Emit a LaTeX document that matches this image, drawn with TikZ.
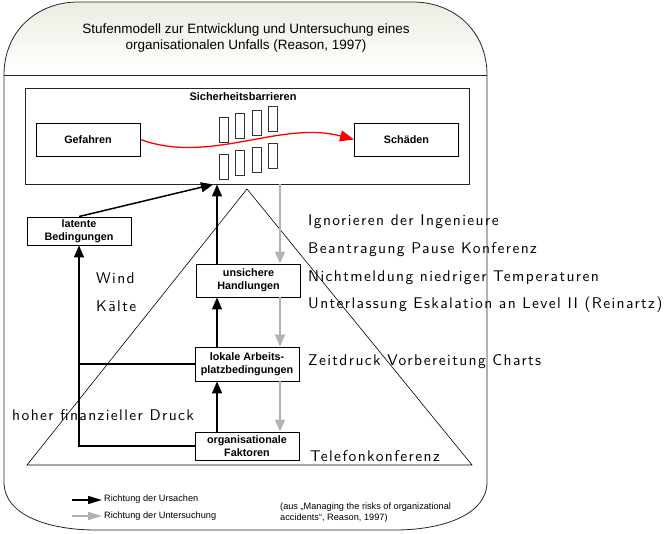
\documentclass[tikz,border=0pt]{standalone}
\usepackage{fontspec}
\setmainfont{Liberation Sans}
\newfontfamily\annofont[LetterSpace=9]{lmsans10-regular.otf}
\usetikzlibrary{arrows.meta, positioning, calc}
\definecolor{headtop}{RGB}{236,236,226}

\tikzset{
  stage/.style={draw, line width=0.9pt, fill=white, align=center,
    font=\bfseries\fontsize{10.8}{13}\selectfont, minimum width=104pt, inner sep=1pt},
  barrier/.style={draw=black!80, line width=0.8pt, minimum width=9pt,
    minimum height=25pt, inner sep=0pt},
  cause/.style={line width=1.5pt, -{Triangle[length=12pt,width=10pt]}},
  probe/.style={line width=1.5pt, black!30, -{Triangle[length=12pt,width=10pt]}},
  remark/.style={anchor=west, inner sep=0pt, font=\annofont\fontsize{15.5}{17}\selectfont},
  legend/.style={anchor=west, inner sep=0pt, align=left, font=\fontsize{9.2}{11}\selectfont}
}

\begin{document}
\begin{tikzpicture}[x=1pt, y=-1pt]
\useasboundingbox (0,0) rectangle (666,533);
% Rahmen mit Kopfzeile
\shade[top color=headtop, bottom color=white]
  (4,75) .. controls (4,30) and (38,2) .. (78,2) -- (413,2)
  .. controls (453,2) and (487,30) .. (487,75) -- cycle;
\draw[black!85, line width=0.8pt]
  (4,75) .. controls (4,30) and (38,2) .. (78,2) -- (413,2)
  .. controls (453,2) and (487,30) .. (487,75) -- (487,482)
  .. controls (487,516) and (440,530) .. (395,530) -- (96,530)
  .. controls (50,530) and (4,516) .. (4,482) -- cycle;
\draw[black!85, line width=0.8pt] (4,75) -- (487,75);
\node[align=center, font=\fontsize{13.5}{16}\selectfont] (title) at (246,38)
  {Stufenmodell zur Entwicklung und Untersuchung eines\\organisationalen Unfalls (Reason, 1997)};

% Sicherheitsbarrieren
\node[draw=black!85, line width=0.9pt, minimum width=444pt, minimum height=96pt] (barrierbox) at (247.5,136) {};
\node[font=\bfseries\fontsize{11}{12}\selectfont] (sbtitle) at (243,97) {Sicherheitsbarrieren};
\node[stage, minimum height=33pt] (gef) at (88,139.5) {Gefahren};
\node[stage, minimum height=33pt] (sch) at (406.5,139.5) {Schäden};
\foreach \i in {0,...,3} {
  \node[barrier] (bt\i) at ({223.5+16.5*\i},{129.5-3.5*\i}) {};
  \node[barrier] (bb\i) at ({223.5+16.5*\i},{166.5-3.5*\i}) {};
}
\draw[red, line width=1.3pt, -{Triangle[length=14pt,width=11pt]}]
  (gef.east) .. controls (210,165) and (280,120) .. (sch.west);

% Pyramide
\draw[line width=0.6pt] (27,465) -- (247,189) -- (472,465) -- cycle;

% Stufen
\node[stage, minimum height=28pt] (lat) at (79,231) {latente\\Bedingungen};
\node[stage, minimum height=33pt] (uns) at (248.5,280.5) {unsichere\\Handlungen};
\node[stage, minimum height=34pt] (lok) at (247,364) {lokale Arbeits-\\platzbedingungen};
\node[stage, minimum height=28pt] (org) at (247,446) {organisationale\\Faktoren};

\coordinate (up) at (217,0);
\coordinate (down) at (280,0);
\coordinate (hit) at (213,0);

% Richtung der Ursachen
\draw[cause] (org.north -| up) -- (lok.south -| up);
\draw[cause] (lok.north -| up) -- (uns.south -| up);
\draw[cause] (uns.north -| up) -- (barrierbox.south -| up);
\draw[cause] (lat.north) -- (barrierbox.south -| hit);
\draw[cause] (org.west) -| (lat.south);
\draw[line width=1.5pt] (lok.west) -- (lok.west -| lat.south);

% Richtung der Untersuchung
\draw[probe] (barrierbox.south -| down) -- (uns.north -| down);
\draw[probe] (uns.south -| down) -- (lok.north -| down);
\draw[probe] (lok.south -| down) -- (org.north -| down);

% Anmerkungen
\node[remark] (ign) at (308,222) {Ignorieren der Ingenieure};
\node[remark] (bea) at (308,250) {Beantragung Pause Konferenz};
\node[remark] (nicht) at (308,278) {Nichtmeldung niedriger Temperaturen};
\node[remark] (unter) at (308,305) {Unterlassung Eskalation an Level II (Reinartz)};
\node[remark] (zeit) at (308,362) {Zeitdruck Vorbereitung Charts};
\node[remark] (tel) at (310,456) {Telefonkonferenz};
\node[remark] (wind) at (96,278) {Wind};
\node[remark] (kaelte) at (96,306) {Kälte};
\node[remark] (druck) at (12,415) {hoher finanzieller Druck};

% Legende
\coordinate (la) at (72,500);
\coordinate (lb) at (102,500);
\coordinate (lc) at (72,516);
\coordinate (ld) at (102,516);
\draw[line width=1.5pt, -{Triangle[length=14pt,width=8pt]}] (la) -- (lb);
\draw[line width=1.5pt, black!30, -{Triangle[length=14pt,width=8pt]}] (lc) -- (ld);
\node[legend] (leg1) at (104,499) {Richtung der Ursachen};
\node[legend] (leg2) at (104,516) {Richtung der Untersuchung};
\node[legend] (quelle) at (280,513) {(aus „Managing the risks of organizational\\accidents“, Reason, 1997)};
\end{tikzpicture}
\end{document}
